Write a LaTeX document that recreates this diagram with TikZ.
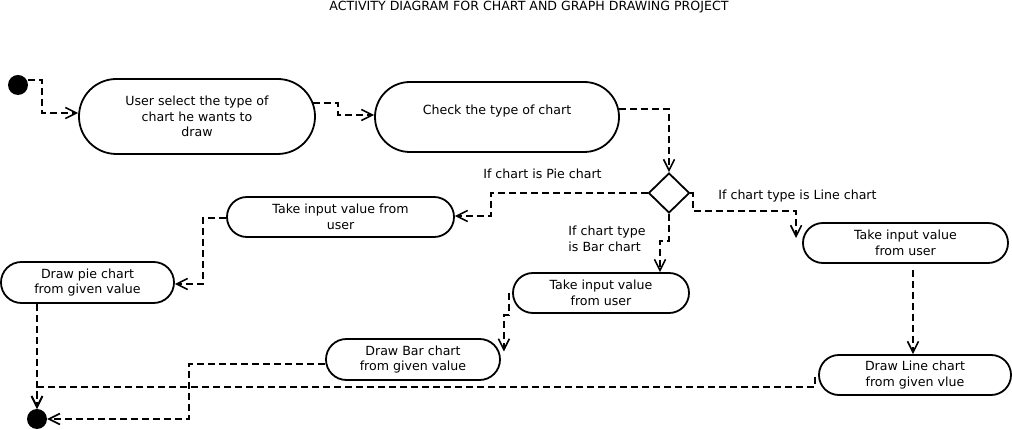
\documentclass[tikz,border=0pt]{standalone}
\usepackage{fontspec}
\setmainfont{DejaVu Sans}
\usetikzlibrary{arrows.meta,shapes.geometric}

\begin{document}
\begin{tikzpicture}[x=1pt,y=1pt,
        font=\fontsize{12.6}{15.5}\selectfont,
        activity/.style args={#1x#2}{draw,line width=1.8pt,align=center,inner sep=0pt,
            minimum width=#1pt,minimum height=#2pt,rounded corners=#2pt/2-0.1pt},
        flow/.style={line width=1.9pt,dash pattern=on 7pt off 4pt,
            -{Straight Barb[length=11pt,width=11pt,line width=1.6pt]}},
        dot/.style={circle,fill=black,inner sep=0pt,minimum size=20pt}]
            \useasboundingbox (0,0) rectangle (1012,430);
            \node (title) at (529,423) {ACTIVITY DIAGRAM FOR CHART AND GRAPH DRAWING PROJECT};

            \node[dot] (start) at (18,345) {};
            \node[activity=236x75] (select) at (197,313.5) {User select the type of\\chart he wants to\\draw};
            \node[activity=244x70] (check) at (497,313) {Check the type of chart\\\mbox{}};
            \node[diamond,draw,line width=1.8pt,inner sep=0pt,minimum width=41pt,minimum height=40pt] (choice) at (669,237) {};

            \node[activity=227x40] (pieinput) at (340.5,213) {Take input value from\\user};
            \node[activity=173x41] (piedraw) at (87.5,147.5) {Draw pie chart\\from given value};
            \node[activity=176x40] (barinput) at (601,137) {Take input value\\from user};
            \node[activity=174x41] (bardraw) at (413,70.5) {Draw Bar chart\\from given value};
            \node[activity=205x40] (lineinput) at (905.5,187) {Take input value\\from user};
            \node[activity=192x40] (linedraw) at (915,55) {Draw Line chart\\from given vlue};
            \node[dot] (finish) at (37,11) {};

            \node (pielabel) at (542.5,256) {If chart is Pie chart};
            \node[align=left] (barlabel) at (607,191) {If chart type\\is Bar chart};
            \node (linelabel) at (797.5,234) {If chart type is Line chart};

            \draw[flow] ([yshift=5pt]start.east) -| ([xshift=-36pt,yshift=3.5pt]select.west) -- ([yshift=3.5pt]select.west);
            \draw[flow] ([xshift=-2.5pt,yshift=13.5pt]select.east) -| ([xshift=-36pt,yshift=2pt]check.west) -- ([yshift=2pt]check.west);
            \draw[flow] ([xshift=-1pt,yshift=8pt]check.east) -| (choice.north);

            \draw[flow] (choice.west) -| ([xshift=36pt,yshift=1pt]pieinput.east) -- ([yshift=1pt]pieinput.east);
            \draw[flow] ([yshift=-1pt]pieinput.west) -| ([xshift=28pt,yshift=-1.5pt]piedraw.east) -- ([yshift=-1.5pt]piedraw.east);
            \draw[flow] (piedraw.south -| finish.north) -- (finish.north);

            \draw[flow] (choice.south) -- ++(0,-27) -| ([xshift=59pt]barinput.north);
            \draw[flow] ([xshift=-3pt]barinput.west) -- ++(0,-22) -| ([xshift=3pt,yshift=8pt]bardraw.east);
            \draw[flow] ([yshift=-4.5pt]bardraw.west) -| ([xshift=142pt]finish.east) -- (finish.east);

            \draw[flow] (choice.east) -| ++(3,-18) -| ([xshift=-6pt,yshift=5pt]lineinput.west);
            \draw[flow] ([xshift=7.5pt,yshift=-6pt]lineinput.south) -- ([xshift=7.5pt]lineinput.south |- linedraw.north);
            \draw[flow] ([xshift=-3pt,yshift=-2pt]linedraw.west) |- ([yshift=22pt]finish.north) -- (finish.north);
        \end{tikzpicture}
\end{document}
